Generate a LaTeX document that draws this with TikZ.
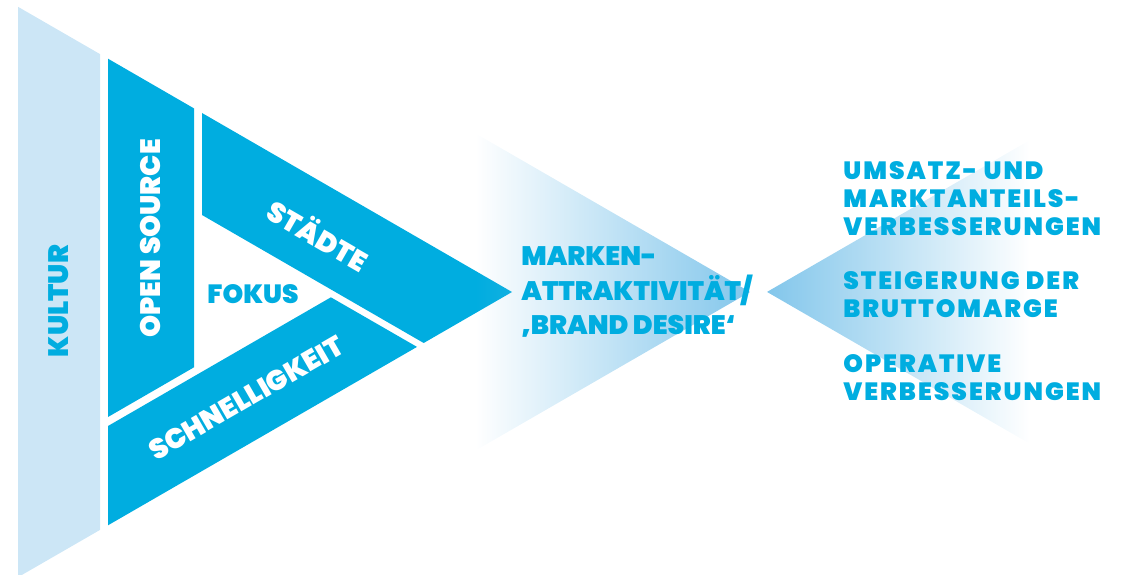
\documentclass[tikz,border=0pt]{standalone}
\usepackage{fontspec}
\setmainfont{Poppins}
\newfontfamily\heavyfont{Poppins Black}
\newfontfamily\widefont{Poppins Black}[LetterSpace=8]
\usetikzlibrary{fadings}
\definecolor{adiblue}{RGB}{0, 173, 224}
\definecolor{paleblue}{RGB}{204, 230, 246}
\definecolor{midblue}{RGB}{130, 198, 235}
\tikzfading[name=fade in east, left color=transparent!100, right color=transparent!0]
\tikzfading[name=fade out east, left color=transparent!0, right color=transparent!100]

\begin{document}
\begin{tikzpicture}[x=0.02cm, y=-0.02cm,
  band/.style={fill=adiblue},
  bandlabel/.style={font=\heavyfont\fontsize{16}{18}\selectfont, text=white, inner sep=0pt},
  bluelabel/.style={font=\widefont\fontsize{14.2}{15.9}\selectfont, text=adiblue, align=left, anchor=west, inner sep=0pt}
]
  \useasboundingbox (0,0) rectangle (1124,574);
  \fill[paleblue] (18,6.8) -- (100,54.1) -- (100,529.9) -- (18,577.2) -- cycle;
  \fill[band] (108,58.7) -- (194,108.4) -- (194,367.3) -- (108,417) -- cycle;
  \fill[band] (202,113) -- (512,292) -- (423.7,343) -- (202,215) -- cycle;
  \fill[band] (108,426) -- (330.9,297.3) -- (417,346.9) -- (108,525.3) -- cycle;
  \fill[midblue, path fading=fade in east] (475,133.2) -- (750,292) -- (475,450.8) -- cycle;
  \fill[midblue, path fading=fade out east] (767,292) -- (1030,140.1) -- (1030,443.9) -- cycle;

  \node[bandlabel, text=adiblue, rotate=90] (kultur) at (59,301) {KULTUR};
  \node[bandlabel, rotate=90] (opensource) at (150.5,238.5) {OPEN SOURCE};
  \node[bandlabel, rotate=-30] (staedte) at (319,234) {STÄDTE};
  \node[bandlabel, rotate=30] (speed) at (246,398) {SCHNELLIGKEIT};
  \node[font=\heavyfont\fontsize{15}{16}\selectfont, text=adiblue, inner sep=0pt] (fokus) at (253,294) {FOKUS};

  \node[bluelabel, font=\heavyfont\fontsize{15.2}{19.9}\selectfont] (brand) at (521,292) {MARKEN-\\ATTRAKTIVITÄT/\\‚BRAND DESIRE‘};

  \node[bluelabel] (umsatz) at (843,199) {UMSATZ- UND\\MARKTANTEILS-\\VERBESSERUNGEN};
  \node[bluelabel] (marge) at (843,295) {STEIGERUNG DER\\BRUTTOMARGE};
  \node[bluelabel] (operativ) at (843,377.5) {OPERATIVE\\VERBESSERUNGEN};
\end{tikzpicture}
\end{document}
